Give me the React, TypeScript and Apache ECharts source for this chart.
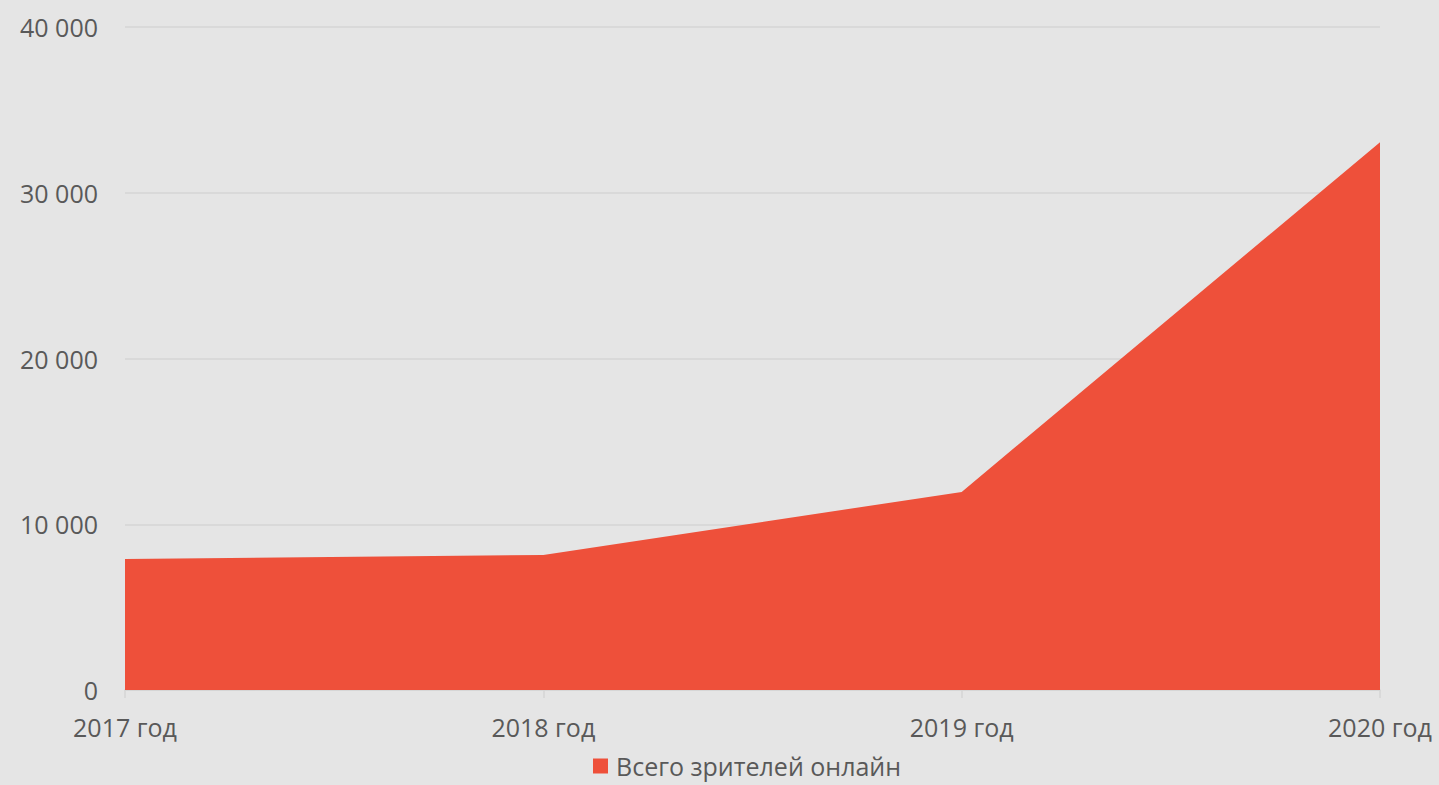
import React, { useEffect, useRef } from "react";
import * as echarts from "echarts";

const categories = ["2017 год", "2018 год", "2019 год", "2020 год"];
const viewers = [7900, 8150, 11950, 33050];
const seriesName = "Всего зрителей онлайн";
const yTicks = [0, 10000, 20000, 30000, 40000];

const fmt = (v: number) => String(v).replace(/\B(?=(\d{3})+(?!\d))/g, " ");

export default function App() {
  const ref = useRef<HTMLDivElement>(null);
  useEffect(() => {
    if (!ref.current) return;
    const chart = echarts.init(ref.current, undefined, { renderer: "svg" });
    chart.setOption({
      animation: false,
      backgroundColor: "#e5e5e5",
      textStyle: { fontFamily: "Open Sans" },
      grid: { left: 125, right: 59, top: 27, bottom: 95, containLabel: false },
      legend: {
        data: [seriesName],
        top: 748,
        left: 588,
        padding: 5,
        icon: "rect",
        itemWidth: 15,
        itemHeight: 15,
        itemGap: 10,
        textStyle: {
          fontSize: 25,
          lineHeight: 26,
          color: "#595959",
          fontFamily: "Open Sans",
          padding: [0, 0, 0, 3],
        },
      },
      xAxis: {
        type: "category",
        data: categories,
        boundaryGap: false,
        axisLine: { lineStyle: { color: "#d4d4d4", width: 1.5 } },
        axisTick: { show: true, length: 8, lineStyle: { color: "#d4d4d4", width: 1.5 } },
        axisLabel: { fontSize: 25, color: "#595959", margin: 24, fontFamily: "Open Sans" },
        splitLine: { show: false },
      },
      yAxis: {
        type: "value",
        min: yTicks[0],
        max: yTicks[yTicks.length - 1],
        interval: 10000,
        axisLine: { show: false },
        axisTick: { show: false },
        axisLabel: {
          fontSize: 25,
          color: "#595959",
          margin: 27,
          fontFamily: "Open Sans",
          formatter: (v: number) => fmt(v),
        },
        splitLine: { lineStyle: { color: "#d4d4d4", width: 1.5 } },
      },
      series: [
        {
          name: seriesName,
          type: "line",
          data: viewers,
          symbol: "none",
          lineStyle: { width: 0 },
          itemStyle: { color: "#ee503a" },
          areaStyle: { color: "#ee503a", opacity: 1 },
        },
      ],
    });
    return () => chart.dispose();
  }, []);
  return (
    <div
      ref={ref}
      style={{ position: "fixed", left: 0, top: 0, width: 1439, height: 785 }}
    />
  );
}
